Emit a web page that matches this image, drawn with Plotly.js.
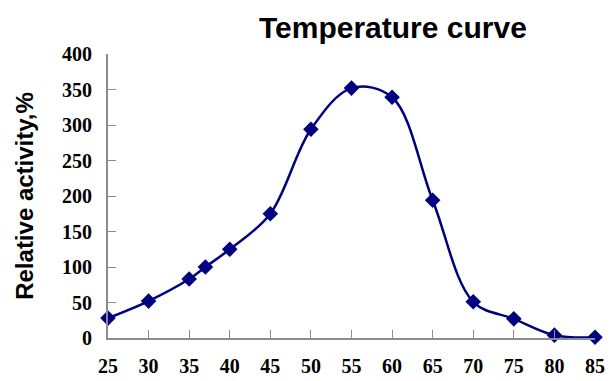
<!DOCTYPE html>
<html>
<head>
<meta charset="utf-8">
<script src="https://cdn.plot.ly/plotly-3.0.1.min.js"></script>
<style>html,body{margin:0;padding:0;background:#fff;}#chart{width:614px;height:381px;}</style>
</head>
<body>
<div id="chart"></div>
<script>
const temperature = [25, 30, 35, 37, 40, 45, 50, 55, 60, 65, 70, 75, 80, 85];
const activity = [28, 52, 83, 100, 125, 175, 294, 352, 339, 194, 51, 27, 4, 1];
const xTicks = [25, 30, 35, 40, 45, 50, 55, 60, 65, 70, 75, 80, 85];
const yTicks = [0, 50, 100, 150, 200, 250, 300, 350, 400];

const trace = {
  x: temperature,
  y: activity,
  type: 'scatter',
  mode: 'lines+markers',
  line: {shape: 'spline', smoothing: 1, color: '#000080', width: 2.5},
  marker: {symbol: 'diamond', size: 12, color: '#000080'},
  cliponaxis: false,
  hoverinfo: 'none'
};

const tickFont = {family: 'Liberation Serif, serif', size: 20, weight: 'bold', color: '#000'};

const layout = {
  width: 614, height: 381,
  margin: {l: 108, r: 19, t: 54, b: 43},
  paper_bgcolor: '#fff', plot_bgcolor: '#fff',
  showlegend: false,
  title: {
    text: '<b>Temperature curve</b>',
    font: {family: 'Liberation Sans, Arial, sans-serif', size: 30, color: '#000'},
    x: 0.585, xref: 'paper', xanchor: 'center',
    y: 31, yref: 'container', yanchor: 'middle'
  },
  xaxis: {
    range: [25, 85], tickvals: xTicks, ticktext: xTicks.map(String),
    showgrid: false, zeroline: false,
    showline: true, linecolor: '#8c8c8c', linewidth: 2,
    ticks: 'inside', ticklen: 8, tickwidth: 1, tickcolor: '#8c8c8c',
    tickfont: tickFont, ticklabelstandoff: 9
  },
  yaxis: {
    range: [0, 400], tickvals: yTicks, ticktext: yTicks.map(String),
    showgrid: false, zeroline: false,
    showline: true, linecolor: '#8c8c8c', linewidth: 2,
    ticks: 'inside', ticklen: 8, tickwidth: 1, tickcolor: '#8c8c8c',
    tickfont: tickFont, ticklabelstandoff: 10,
    title: {
      text: '<b>Relative activity,%</b>',
      font: {family: 'Liberation Sans, Arial, sans-serif', size: 24, color: '#000'},
      standoff: 22
    }
  }
};

Plotly.newPlot('chart', [trace], layout, {staticPlot: true, displayModeBar: false});
</script>
</body>
</html>
